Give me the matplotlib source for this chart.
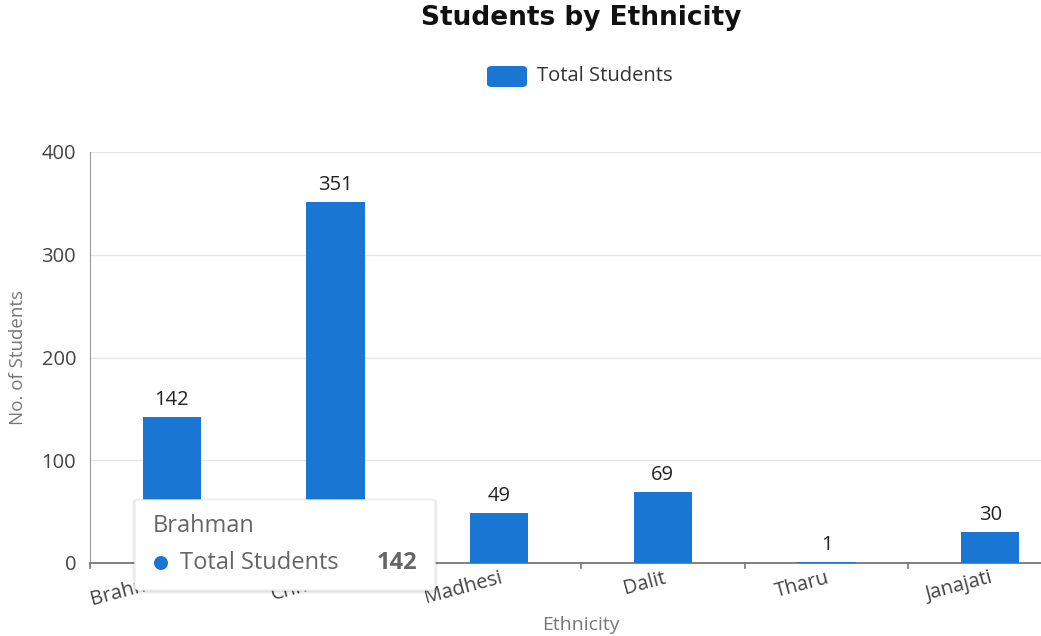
import numpy as np
import matplotlib.pyplot as plt
from matplotlib.patches import FancyBboxPatch, Ellipse

ethnicities = ['Brahman', 'Chhetri', 'Madhesi', 'Dalit', 'Tharu', 'Janajati']
total_students = [142, 351, 49, 69, 1, 30]
y_ticks = [0, 100, 200, 300, 400]

bar_color = '#1976d2'
plt.rcParams['font.family'] = ['Open Sans', 'DejaVu Sans']

W, H = 1041, 636
fig = plt.figure(figsize=(W / 100, H / 100), dpi=100)


def fx(px):
    return px / W


def fy(py):
    return 1 - py / H


# plot area runs past the right edge of the picture
ax = fig.add_axes([fx(90), fy(563), fx(982), 411 / H])
x = np.arange(len(ethnicities))
bars = ax.bar(x, total_students, width=0.355, color=bar_color, zorder=3)
ax.bar_label(bars, labels=[str(v) for v in total_students], padding=5,
             fontsize=14.5, color='#222222')

ax.set_xlim(-0.5, len(ethnicities) - 0.5)
ax.set_ylim(0, 400)
ax.set_yticks(y_ticks)
ax.yaxis.grid(True, color='#e6e6e6', linewidth=1, zorder=0)
ax.tick_params(axis='y', length=0, labelsize=14.5, labelcolor='#444444', pad=10)

ax.set_xticks(x)
ax.set_xticklabels(ethnicities, rotation=15, ha='right', rotation_mode='anchor',
                   fontsize=14.5, color='#444444')
ax.tick_params(axis='x', length=0, pad=3.5)
for b in np.arange(len(ethnicities) + 1) - 0.5:
    ax.plot([b, b], [0, -0.012], transform=ax.get_xaxis_transform(),
            color='#777777', linewidth=1.2, clip_on=False)

for s in ['top', 'right']:
    ax.spines[s].set_visible(False)
ax.spines['left'].set_color('#999999')
ax.spines['bottom'].set_color('#777777')
ax.spines['bottom'].set_linewidth(1.3)

ax.set_xlabel('Ethnicity', fontsize=14, color='#777777', va='center')
ax.xaxis.set_label_coords(0.5, (563 - 625) / 411)
ax.set_ylabel('No. of Students', fontsize=13.5, color='#777777', va='center')
ax.yaxis.set_label_coords((18 - 90) / 982, 0.5)

# title and legend, centred on the plot area
cx = fx(90 + 982 / 2)
fig.text(cx, fy(18), 'Students by Ethnicity', ha='center', va='center',
         fontsize=19, fontweight='bold', family='DejaVu Sans', color='#111111')
fig.patches.append(FancyBboxPatch((fx(487), fy(87)), fx(40), 21 / H,
                                  boxstyle='round,pad=0,rounding_size=0.005',
                                  transform=fig.transFigure, facecolor=bar_color,
                                  edgecolor='none'))
fig.text(fx(537), fy(76), 'Total Students', ha='left', va='center',
         fontsize=14.5, color='#333333')

# tooltip
for i, a in enumerate([0.03, 0.04, 0.05]):
    g = 3 - i
    fig.patches.append(FancyBboxPatch((fx(135 - g), fy(591 + g)), fx(300 + 2 * g), (90 + 2 * g) / H,
                                      boxstyle='round,pad=0,rounding_size=0.006',
                                      transform=fig.transFigure, facecolor='black',
                                      edgecolor='none', alpha=a, zorder=5))
fig.patches.append(FancyBboxPatch((fx(135), fy(590)), fx(300), 90 / H,
                                  boxstyle='round,pad=0,rounding_size=0.006',
                                  transform=fig.transFigure, facecolor='white',
                                  edgecolor='#f0f0f0', zorder=6))
fig.text(fx(153), fy(526), ethnicities[0], ha='left', va='center',
         fontsize=17, color='#666666', zorder=7)
fig.patches.append(Ellipse((fx(161), fy(563)), 14 / W, 14 / H, transform=fig.transFigure,
                           facecolor=bar_color, edgecolor='none', zorder=7))
fig.text(fx(180), fy(563), 'Total Students', ha='left', va='center',
         fontsize=17, color='#666666', zorder=7)
fig.text(fx(417), fy(563), str(total_students[0]), ha='right', va='center',
         fontsize=17, fontweight='bold', color='#666666', zorder=7)

fig.savefig('out.png', dpi=100)
